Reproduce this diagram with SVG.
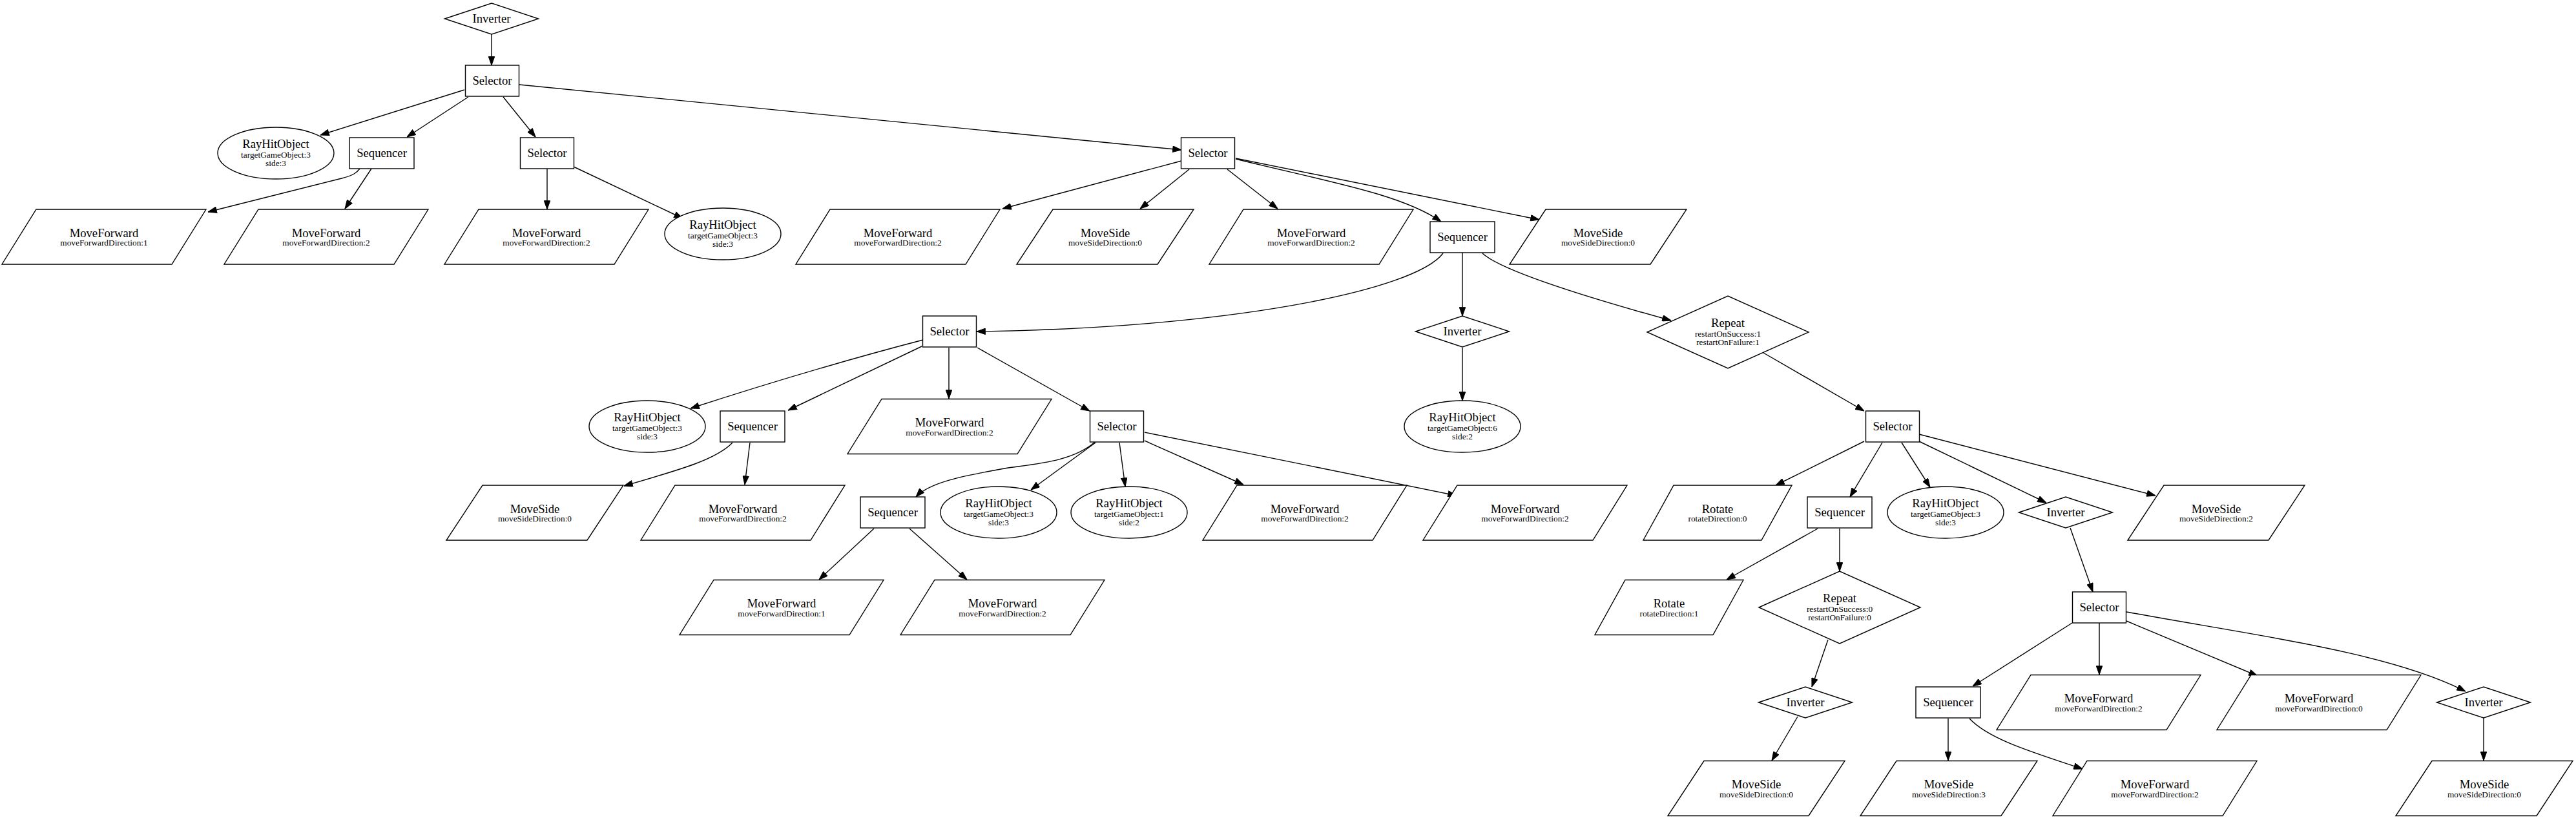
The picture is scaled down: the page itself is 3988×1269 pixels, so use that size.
<svg xmlns="http://www.w3.org/2000/svg" xmlns:xlink="http://www.w3.org/1999/xlink" width="3988" height="1269" viewBox="0 0 3988 1269">
<style>
.sh{fill:#fff;stroke:#000;stroke-width:1.4}
.e{fill:none;stroke:#000;stroke-width:1.4;marker-end:url(#ah)}
text{font-family:"Liberation Serif","Times New Roman",serif;text-anchor:middle;fill:#000}
.m{font-size:18.67px}
.t{font-size:13.33px}
</style>
<defs>
<marker id="ah" viewBox="-14 -5 14 10" markerWidth="14" markerHeight="10" refX="0" refY="0" orient="auto" markerUnits="userSpaceOnUse">
<path d="M0,0 L-13.3,-4.7 L-13.3,4.7 Z" fill="#000" stroke="#000" stroke-width="1"/>
</marker>
<polygon id="pMF" class="sh" points="-105,-42.5 158,-42.5 105,42.5 -158,42.5"/>
<polygon id="pMS" class="sh" points="-81,-42.5 137,-42.5 81,42.5 -137,42.5"/>
<polygon id="pRot" class="sh" points="-68,-42.5 115,-42.5 68,42.5 -115,42.5"/>
<ellipse id="ell" class="sh" cx="0" cy="0" rx="90" ry="40"/>
<rect id="bSel" class="sh" x="-41.5" y="-24" width="83" height="48"/>
<rect id="bSeq" class="sh" x="-50" y="-24" width="100" height="48"/>
<polygon id="dInv" class="sh" points="-72.5,0 0,-24 72.5,0 0,24"/>
<polygon id="dRep" class="sh" points="-125,0 0,-56 125,0 0,56"/>
</defs>
<rect width="3988" height="1269" fill="#fff"/>
<g id="edges">
<path class="e" d="M761,53 L761,101"/>
<path class="e" d="M719,139 L496,209"/>
<path class="e" d="M725,150 L630,212"/>
<path class="e" d="M779,150 L829,212"/>
<path class="e" d="M804,131 L1829,232"/>
<path class="e" d="M557,261 C553,266 549,271 529,276 L322,328"/>
<path class="e" d="M575,261 L534,323"/>
<path class="e" d="M847,261 L847,324"/>
<path class="e" d="M888,258 L1057,338"/>
<path class="e" d="M1829,249 L1552,323"/>
<path class="e" d="M1841,262 L1765,323"/>
<path class="e" d="M1900,262 L1978,323"/>
<path class="e" d="M1913,246 C2050,280 2170,300 2231,343"/>
<path class="e" d="M1913,245 L2383,340"/>
<path class="e" d="M2234,392 C2190,450 1900,508 1512,513"/>
<path class="e" d="M2264,391 L2264,489"/>
<path class="e" d="M2295,392 C2320,415 2420,450 2587,496"/>
<path class="e" d="M1429,526 Q1260,570 1069,632"/>
<path class="e" d="M1427,536 L1220,635"/>
<path class="e" d="M1469,538 L1469,617"/>
<path class="e" d="M1513,538 L1687,636"/>
<path class="e" d="M2264,538 L2264,620"/>
<path class="e" d="M2730,546 L2886,636"/>
<path class="e" d="M1134,685 C1110,710 1060,725 966,752"/>
<path class="e" d="M1161,685 L1153,750"/>
<path class="e" d="M1695,684 C1660,715 1600,718 1555,725 C1500,735 1440,745 1418,769"/>
<path class="e" d="M1696,685 L1596,758"/>
<path class="e" d="M1733,685 L1742,753"/>
<path class="e" d="M1772,682 L1925,750"/>
<path class="e" d="M1772,669 L2255,767"/>
<path class="e" d="M2886,683 L2749,751"/>
<path class="e" d="M2914,685 L2864,769"/>
<path class="e" d="M2944,685 L2988,754"/>
<path class="e" d="M2971,683 L3168,778"/>
<path class="e" d="M2971,672 L3337,767"/>
<path class="e" d="M1353,818 L1268,897"/>
<path class="e" d="M1408,818 L1497,897"/>
<path class="e" d="M2814,818 L2673,897"/>
<path class="e" d="M2848,818 L2848,884"/>
<path class="e" d="M3205,817 L3240,916"/>
<path class="e" d="M2830,990 L2805,1063"/>
<path class="e" d="M3208,964 L3054,1062"/>
<path class="e" d="M3250,964 L3250,1044"/>
<path class="e" d="M3292,961 L3495,1046"/>
<path class="e" d="M3292,947 C3500,985 3700,1010 3817,1070"/>
<path class="e" d="M2783,1109 L2743,1177"/>
<path class="e" d="M3016,1112 L3016,1177"/>
<path class="e" d="M3049,1112 C3080,1145 3150,1165 3224,1190"/>
<path class="e" d="M3845,1111 L3845,1177"/>
</g>
<g id="n0" transform="translate(761,29)"><use xlink:href="#dInv"/><text class="m" y="6">Inverter</text></g>
<g id="n1" transform="translate(762,125)"><use xlink:href="#bSel"/><text class="m" y="6">Selector</text></g>
<g id="n2" transform="translate(427,237)"><use xlink:href="#ell"/><text class="m" y="-8">RayHitObject</text><text class="t" y="6.5">targetGameObject:3</text><text class="t" y="20">side:3</text></g>
<g id="n3" transform="translate(591,237)"><use xlink:href="#bSeq"/><text class="m" y="6">Sequencer</text></g>
<g id="n4" transform="translate(847,237)"><use xlink:href="#bSel"/><text class="m" y="6">Selector</text></g>
<g id="n5" transform="translate(1870,237)"><use xlink:href="#bSel"/><text class="m" y="6">Selector</text></g>
<g id="n6" transform="translate(161,366.5)"><use xlink:href="#pMF"/><text class="m" y="0">MoveForward</text><text class="t" y="13.5">moveForwardDirection:1</text></g>
<g id="n7" transform="translate(505,366.5)"><use xlink:href="#pMF"/><text class="m" y="0">MoveForward</text><text class="t" y="13.5">moveForwardDirection:2</text></g>
<g id="n8" transform="translate(846,366.5)"><use xlink:href="#pMF"/><text class="m" y="0">MoveForward</text><text class="t" y="13.5">moveForwardDirection:2</text></g>
<g id="n9" transform="translate(1119,362)"><use xlink:href="#ell"/><text class="m" y="-8">RayHitObject</text><text class="t" y="6.5">targetGameObject:3</text><text class="t" y="20">side:3</text></g>
<g id="n10" transform="translate(1390,366.5)"><use xlink:href="#pMF"/><text class="m" y="0">MoveForward</text><text class="t" y="13.5">moveForwardDirection:2</text></g>
<g id="n11" transform="translate(1711,366.5)"><use xlink:href="#pMS"/><text class="m" y="0">MoveSide</text><text class="t" y="13.5">moveSideDirection:0</text></g>
<g id="n12" transform="translate(2030,366.5)"><use xlink:href="#pMF"/><text class="m" y="0">MoveForward</text><text class="t" y="13.5">moveForwardDirection:2</text></g>
<g id="n13" transform="translate(2264,367)"><use xlink:href="#bSeq"/><text class="m" y="6">Sequencer</text></g>
<g id="n14" transform="translate(2474,366.5)"><use xlink:href="#pMS"/><text class="m" y="0">MoveSide</text><text class="t" y="13.5">moveSideDirection:0</text></g>
<g id="n15" transform="translate(1470,513)"><use xlink:href="#bSel"/><text class="m" y="6">Selector</text></g>
<g id="n16" transform="translate(2264,513)"><use xlink:href="#dInv"/><text class="m" y="6">Inverter</text></g>
<g id="n17" transform="translate(2675,514)"><use xlink:href="#dRep"/><text class="m" y="-8">Repeat</text><text class="t" y="6.5">restartOnSuccess:1</text><text class="t" y="20">restartOnFailure:1</text></g>
<g id="n18" transform="translate(1002,660)"><use xlink:href="#ell"/><text class="m" y="-8">RayHitObject</text><text class="t" y="6.5">targetGameObject:3</text><text class="t" y="20">side:3</text></g>
<g id="n19" transform="translate(1165,660)"><use xlink:href="#bSeq"/><text class="m" y="6">Sequencer</text></g>
<g id="n20" transform="translate(1470,660)"><use xlink:href="#pMF"/><text class="m" y="0">MoveForward</text><text class="t" y="13.5">moveForwardDirection:2</text></g>
<g id="n21" transform="translate(1729,660)"><use xlink:href="#bSel"/><text class="m" y="6">Selector</text></g>
<g id="n22" transform="translate(2264,660)"><use xlink:href="#ell"/><text class="m" y="-8">RayHitObject</text><text class="t" y="6.5">targetGameObject:6</text><text class="t" y="20">side:2</text></g>
<g id="n23" transform="translate(2930,660)"><use xlink:href="#bSel"/><text class="m" y="6">Selector</text></g>
<g id="n24" transform="translate(828,793.5)"><use xlink:href="#pMS"/><text class="m" y="0">MoveSide</text><text class="t" y="13.5">moveSideDirection:0</text></g>
<g id="n25" transform="translate(1150,793.5)"><use xlink:href="#pMF"/><text class="m" y="0">MoveForward</text><text class="t" y="13.5">moveForwardDirection:2</text></g>
<g id="n26" transform="translate(1382,793)"><use xlink:href="#bSeq"/><text class="m" y="6">Sequencer</text></g>
<g id="n27" transform="translate(1546,793)"><use xlink:href="#ell"/><text class="m" y="-8">RayHitObject</text><text class="t" y="6.5">targetGameObject:3</text><text class="t" y="20">side:3</text></g>
<g id="n28" transform="translate(1748,793)"><use xlink:href="#ell"/><text class="m" y="-8">RayHitObject</text><text class="t" y="6.5">targetGameObject:1</text><text class="t" y="20">side:2</text></g>
<g id="n29" transform="translate(2020,793.5)"><use xlink:href="#pMF"/><text class="m" y="0">MoveForward</text><text class="t" y="13.5">moveForwardDirection:2</text></g>
<g id="n30" transform="translate(2361,793.5)"><use xlink:href="#pMF"/><text class="m" y="0">MoveForward</text><text class="t" y="13.5">moveForwardDirection:2</text></g>
<g id="n31" transform="translate(2659,793.5)"><use xlink:href="#pRot"/><text class="m" y="0">Rotate</text><text class="t" y="13.5">rotateDirection:0</text></g>
<g id="n32" transform="translate(2848,793)"><use xlink:href="#bSeq"/><text class="m" y="6">Sequencer</text></g>
<g id="n33" transform="translate(3012,793)"><use xlink:href="#ell"/><text class="m" y="-8">RayHitObject</text><text class="t" y="6.5">targetGameObject:3</text><text class="t" y="20">side:3</text></g>
<g id="n34" transform="translate(3198,793)"><use xlink:href="#dInv"/><text class="m" y="6">Inverter</text></g>
<g id="n35" transform="translate(3431,793.5)"><use xlink:href="#pMS"/><text class="m" y="0">MoveSide</text><text class="t" y="13.5">moveSideDirection:2</text></g>
<g id="n36" transform="translate(1210,940)"><use xlink:href="#pMF"/><text class="m" y="0">MoveForward</text><text class="t" y="13.5">moveForwardDirection:1</text></g>
<g id="n37" transform="translate(1552,940)"><use xlink:href="#pMF"/><text class="m" y="0">MoveForward</text><text class="t" y="13.5">moveForwardDirection:2</text></g>
<g id="n38" transform="translate(2584,940)"><use xlink:href="#pRot"/><text class="m" y="0">Rotate</text><text class="t" y="13.5">rotateDirection:1</text></g>
<g id="n39" transform="translate(2848,940)"><use xlink:href="#dRep"/><text class="m" y="-8">Repeat</text><text class="t" y="6.5">restartOnSuccess:0</text><text class="t" y="20">restartOnFailure:0</text></g>
<g id="n40" transform="translate(3250,940)"><use xlink:href="#bSel"/><text class="m" y="6">Selector</text></g>
<g id="n41" transform="translate(2795,1087)"><use xlink:href="#dInv"/><text class="m" y="6">Inverter</text></g>
<g id="n42" transform="translate(3016,1087)"><use xlink:href="#bSeq"/><text class="m" y="6">Sequencer</text></g>
<g id="n43" transform="translate(3249,1087)"><use xlink:href="#pMF"/><text class="m" y="0">MoveForward</text><text class="t" y="13.5">moveForwardDirection:2</text></g>
<g id="n44" transform="translate(3590,1087)"><use xlink:href="#pMF"/><text class="m" y="0">MoveForward</text><text class="t" y="13.5">moveForwardDirection:0</text></g>
<g id="n45" transform="translate(3845,1087)"><use xlink:href="#dInv"/><text class="m" y="6">Inverter</text></g>
<g id="n46" transform="translate(2719,1220)"><use xlink:href="#pMS"/><text class="m" y="0">MoveSide</text><text class="t" y="13.5">moveSideDirection:0</text></g>
<g id="n47" transform="translate(3017,1220)"><use xlink:href="#pMS"/><text class="m" y="0">MoveSide</text><text class="t" y="13.5">moveSideDirection:3</text></g>
<g id="n48" transform="translate(3336,1220)"><use xlink:href="#pMF"/><text class="m" y="0">MoveForward</text><text class="t" y="13.5">moveForwardDirection:2</text></g>
<g id="n49" transform="translate(3846,1220)"><use xlink:href="#pMS"/><text class="m" y="0">MoveSide</text><text class="t" y="13.5">moveSideDirection:0</text></g>
</svg>
